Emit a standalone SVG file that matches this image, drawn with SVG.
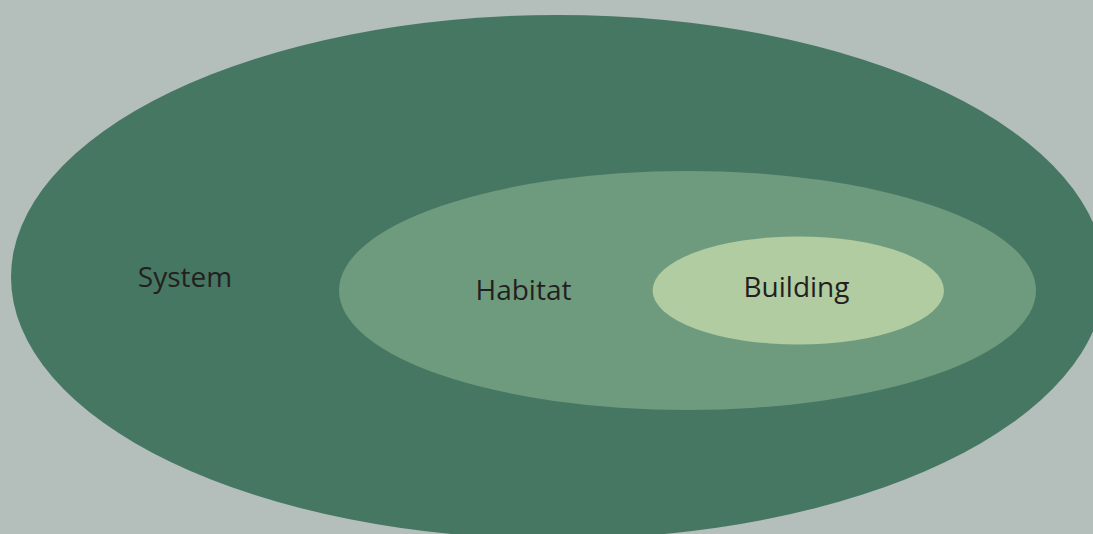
<svg xmlns="http://www.w3.org/2000/svg" width="1093" height="534" viewBox="0 0 1093 534">
  <style>
    .label { font-family: "Open Sans", "Noto Sans", "Liberation Sans", sans-serif; font-size: 28px; fill: #231f20; text-anchor: middle; }
    .system { fill: #467762; }
    .habitat { fill: #6e9b7e; }
    .building { fill: #b0cca0; }
  </style>
  <rect width="1093" height="534" fill="#b4beba"/>
  <g id="system">
    <ellipse class="system" cx="558" cy="277" rx="547" ry="262"/>
    <text class="label" x="185" y="287">System</text>
  </g>
  <g id="habitat">
    <ellipse class="habitat" cx="687.5" cy="290.5" rx="348.5" ry="119.5"/>
    <text class="label" x="523.5" y="300">Habitat</text>
  </g>
  <g id="building">
    <ellipse class="building" cx="798.3" cy="290.5" rx="145.7" ry="54"/>
    <text class="label" x="796.5" y="297">Building</text>
  </g>
  <g id="connectors"/>
</svg>
